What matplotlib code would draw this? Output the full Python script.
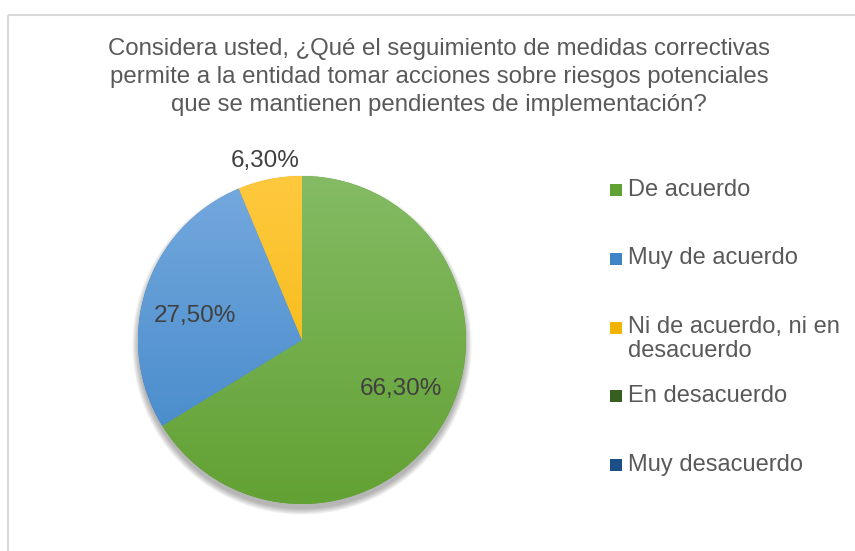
import numpy as np
import matplotlib.pyplot as plt
from matplotlib.patches import Circle, Rectangle
from matplotlib.colors import LinearSegmentedColormap

# survey answers and percentages
categories = ['De acuerdo', 'Muy de acuerdo', 'Ni de acuerdo, ni en\ndesacuerdo',
              'En desacuerdo', 'Muy desacuerdo']
values = [66.3, 27.5, 6.3, 0.0, 0.0]
labels = ['66,30%', '27,50%', '6,30%', '', '']
title = ('Considera usted, ¿Qué el seguimiento de medidas correctivas\n'
         'permite a la entidad tomar acciones sobre riesgos potenciales\n'
         'que se mantienen pendientes de implementación?')

# top / bottom colour of each slice gradient
tops = ['#84bb64', '#75a9de', '#ffc93f', '#4f7a30', '#2e64a0']
bottoms = ['#62a133', '#3e85c7', '#f0b400', '#375f20', '#1c4e88']

plt.rcParams['font.family'] = ['Liberation Sans', 'DejaVu Sans']

W, H = 855, 551
fig = plt.figure(figsize=(W / 100, H / 100), dpi=100)

# light grey chart frame, pixel coordinates
frame = fig.add_axes([0, 0, 1, 1])
frame.set_xlim(0, W)
frame.set_ylim(H, 0)
frame.axis('off')
frame.add_patch(Rectangle((7.5, 14.5), W + 20, H + 20, fill=False, ec='#d9d9d9', lw=1.5))

frame.text(439, 77, title, ha='center', va='center', fontsize=17.3,
           color='#595959', linespacing=1.38)

# pie axes: center (302, 340), radius 164 px
cx, cy, r = 302, 340, 164
half = 190
ax = fig.add_axes([(cx - half) / W, (H - cy - half) / H, 2 * half / W, 2 * half / H])

wedges, _ = ax.pie(values, colors=bottoms, startangle=90, counterclock=False,
                   radius=1.0, wedgeprops=dict(lw=0))
lim = half / r
ax.set_aspect('equal')
ax.axis('off')

# soft shadow below pie
for i in range(8):
    ax.add_patch(Circle((0.0, -0.03), 1.0 + 0.005 * i, color='black',
                        alpha=0.04, lw=0, zorder=0))

grad = np.linspace(0, 1, 256).reshape(-1, 1)
for w, c_top, c_bot in zip(wedges, tops, bottoms):
    if w.theta2 - w.theta1 <= 0:
        continue
    cmap = LinearSegmentedColormap.from_list('g', [c_bot, c_top])
    im = ax.imshow(grad, cmap=cmap, extent=(-1, 1, -1, 1), origin='lower',
                   aspect='auto', zorder=2)
    im.set_clip_path(w)
ax.set_xlim(-lim, lim)
ax.set_ylim(-lim, lim)

# data labels (inner ones nudged a bit like Excel's best fit)
for w, lab in zip(wedges, labels):
    if not lab:
        continue
    mid = (w.theta1 + w.theta2) / 2
    if w.theta2 - w.theta1 < 30:
        dist = 1.13
    else:
        dist = 0.67
        mid += 4
    mid = np.deg2rad(mid)
    ax.text(dist * np.cos(mid), dist * np.sin(mid), lab, ha='center',
            va='center_baseline', fontsize=17.5, color='#404040', zorder=5)

# legend on the right: evenly spaced slots, text top-aligned in each slot
slot0, step = 190, 68.75
for i, (cat, c_bot) in enumerate(zip(categories, bottoms)):
    y = slot0 + i * step
    frame.add_patch(Rectangle((610, y - 6), 12, 12, color=c_bot, lw=0))
    frame.text(628, y - 11.5, cat, ha='left', va='top', fontsize=17,
               color='#595959', linespacing=1.1)

fig.savefig('out.png', dpi=100)
